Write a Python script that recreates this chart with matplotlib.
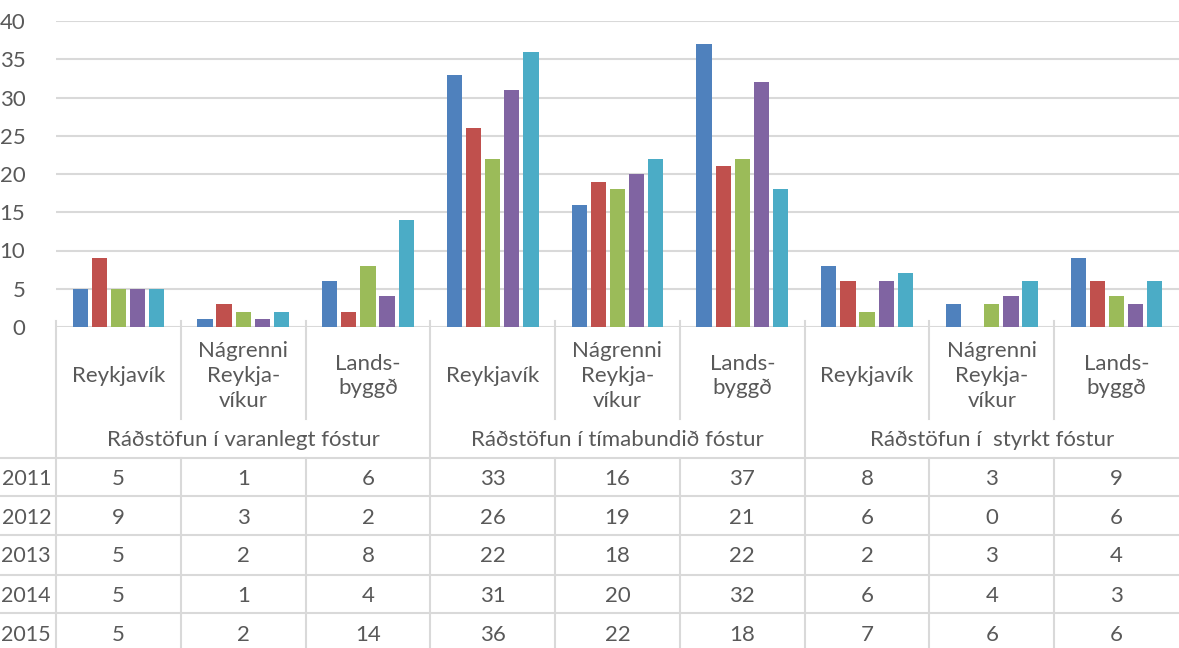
import matplotlib.pyplot as plt
import numpy as np

plt.rcParams['font.family'] = ['Lato', 'DejaVu Sans']

categories = ["Reykjavík", "Nágrenni\nReykja-\nvíkur", "Lands-\nbyggð"] * 3
groups = ["Ráðstöfun í varanlegt fóstur",
          "Ráðstöfun í tímabundið fóstur",
          "Ráðstöfun í  styrkt fóstur"]
years = ["2011", "2012", "2013", "2014", "2015"]
v2011 = [5, 1, 6, 33, 16, 37, 8, 3, 9]
v2012 = [9, 3, 2, 26, 19, 21, 6, 0, 6]
v2013 = [5, 2, 8, 22, 18, 22, 2, 3, 4]
v2014 = [5, 1, 4, 31, 20, 32, 6, 4, 3]
v2015 = [5, 2, 14, 36, 22, 18, 7, 6, 6]
series = [v2011, v2012, v2013, v2014, v2015]
colors = ["#4F81BD", "#C0504D", "#9BBB59", "#8064A2", "#4BACC6"]

txt = "#595959"
grid = "#D9D9D9"
W, H = 1179, 648
fs = 16

fig = plt.figure(figsize=(W / 100, H / 100), dpi=100)

# --- bar chart ---
ax = fig.add_axes([56 / W, 1 - 327 / H, 1123 / W, 306 / H])
x = np.arange(len(categories)) + 0.5
step = 0.153
width = 0.122
for k, vals in enumerate(series):
    ax.bar(x + (k - 2) * step, vals, width=width, color=colors[k], zorder=3)

ax.set_xlim(0, 9)
ax.set_ylim(0, 40)
ax.set_yticks(range(0, 41, 5))
ax.set_xticks([])
ax.yaxis.grid(True, color=grid, linewidth=1.5, zorder=0)
for s in ax.spines.values():
    s.set_visible(False)
ax.tick_params(axis='y', length=0, pad=22, labelsize=fs, labelcolor=txt)

# --- data table below ---
tb = fig.add_axes([56 / W, 0, 1123 / W, 327 / H])
tb.set_xlim(0, 9)
tb.set_ylim(H, 327)
tb.axis('off')

lw = 1.5
left = -56 / 124.8
# vertical lines
tb.plot([0, 0], [327, H], color=grid, lw=lw, clip_on=False)
for b in range(1, 9):
    if b % 3 == 0:
        tb.plot([b, b], [327, H], color=grid, lw=lw, clip_on=False)
    else:
        tb.plot([b, b], [327, 423], color=grid, lw=lw, clip_on=False)
        tb.plot([b, b], [461, H], color=grid, lw=lw, clip_on=False)

# horizontal row lines
row_tops = [461, 499, 537, 576, 614]
for y in row_tops:
    tb.plot([left, 9], [y, y], color=grid, lw=lw, clip_on=False)

# category labels
for i, c in enumerate(categories):
    tb.text(i + 0.5, 381, c, ha='center', va='center', fontsize=fs,
            color=txt, linespacing=1.3)

# group labels
for g, name in enumerate(groups):
    tb.text(g * 3 + 1.5, 444, name, ha='center', va='center', fontsize=fs,
            color=txt)

# table values
for r, (yr, vals) in enumerate(zip(years, series)):
    yc = row_tops[r] + 21
    tb.text(-5 / 124.8, yc, yr, ha='right', va='center', fontsize=15.5,
            color=txt, clip_on=False)
    for i, v in enumerate(vals):
        tb.text(i + 0.5, yc, str(v), ha='center', va='center', fontsize=fs,
                color=txt)

fig.savefig("out.png", dpi=100)
